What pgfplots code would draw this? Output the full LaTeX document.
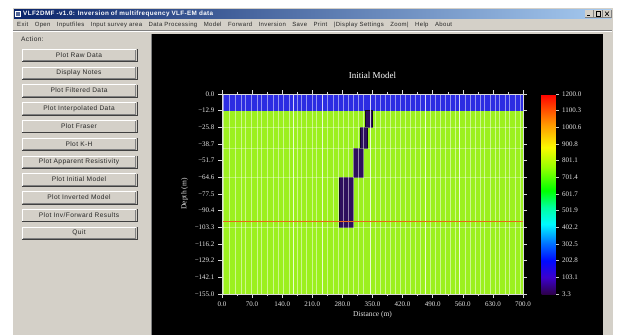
\documentclass[border=0pt]{standalone}
\usepackage{fontspec}
\setmainfont{Liberation Sans}
\newfontfamily\guifont[LetterSpace=6]{Liberation Sans}
\newfontfamily\plotfont{Liberation Serif}
\usepackage{pgfplots}
\usepackage{pgfplotstable}
\pgfplotsset{compat=1.18}

\definecolor{wingray}{HTML}{D4D0C8}
\definecolor{windark}{HTML}{808080}
\definecolor{titleL}{HTML}{0A246A}
\definecolor{titleR}{HTML}{A6CAF0}
\definecolor{layerblue}{HTML}{2C2CE2}
\definecolor{bodygreen}{HTML}{9CF01E}
\definecolor{dikepurple}{HTML}{2E0E5E}
\definecolor{depthline}{HTML}{E8661A}

% cell boundaries of the model mesh (distance in m)
\pgfplotstableread{
x y
3 -155
16 -155
30 -155
44 -155
55 -155
67 -155
81 -155
92 -155
106 -155
119 -155
131 -155
143 -155
156 -155
174 -155
185 -155
197 -155
209 -155
220 -155
246 -155
259 -155
270 -155
282 -155
293 -155
305 -155
317 -155
328 -155
356 -155
368 -155
379 -155
391 -155
403 -155
414 -155
426 -155
437 -155
449 -155
461 -155
484 -155
495 -155
507 -155
519 -155
530 -155
542 -155
565 -155
577 -155
588 -155
600 -155
611 -155
623 -155
635 -155
646 -155
658 -155
669 -155
681 -155
693 -155
}\cellbounds
% station positions, drawn brighter
\pgfplotstableread{
x y
166 -155
233 -155
344 -155
472 -155
553 -155
}\stations

\begin{document}
\begin{tikzpicture}
\begin{scope}[x=1pt,y=1pt]
  \useasboundingbox (0,0) rectangle (626,-335);
  \fill[white] (0,0) rectangle (626,-335);
  % window frame
  \fill[wingray] (12,-7) rectangle (613,-335);
  \draw[white] (12.5,-335) -- (12.5,-7.5) -- (612.5,-7.5);
  \shade[left color=titleL, right color=titleR] (14,-9) rectangle (611,-18.5);
  \fill[white] (15,-10.5) rectangle (21,-17);
  \fill[titleL!70!white] (16,-12) rectangle (20,-16);
  \node[anchor=west, text=white, font=\guifont\bfseries\fontsize{6.3}{7}\selectfont, inner sep=0pt]
    at (23,-13.8) {VLF2DMF -v1.0: Inversion of multifrequency VLF-EM data};
  % caption buttons
  \foreach \bx in {585,594,603} {
    \fill[wingray] (\bx,-10) rectangle ++(8,-7.5);
    \draw[windark] (\bx,-17.5) -- ++(8,0) -- ++(0,7.5);
  }
  \draw[black, line width=0.8pt] (587,-15.5) -- (590,-15.5);
  \draw[black, line width=0.5pt] (596,-11.5) rectangle (600,-16);
  \draw[black, line width=0.6pt] (605,-11.5) -- (609,-16) (605,-16) -- (609,-11.5);
  % menu bar
  \node[anchor=west, font=\guifont\fontsize{6}{7}\selectfont, inner sep=0pt, text=black!85]
    at (17,-24.8) {\hbox to 435pt{Exit\hfill Open\hfill Inputfiles\hfill Input survey area\hfill
      Data Processing\hfill Model\hfill Forward\hfill Inversion\hfill Save\hfill Print\hfill
      |Display Settings\hfill Zoom|\hfill Help\hfill About}};
  \draw[windark] (13,-30.5) -- (612,-30.5);
  \draw[white] (13,-31.5) -- (612,-31.5);
  % side panel
  \node[anchor=west, font=\guifont\fontsize{6.6}{7}\selectfont, inner sep=0pt, text=black!85] at (21,-39) {Action:};
  \foreach \lbl [count=\i from 0] in {Plot Raw Data, Display Notes, Plot Filtered Data,
      Plot Interpolated Data, Plot Fraser, Plot K-H, Plot Apparent Resistivity,
      Plot Initial Model, Plot Inverted Model, Plot Inv/Forward Results, Quit} {
    \pgfmathsetmacro\cy{-(55+\i*17.8)}
    \fill[wingray] (22,\cy+6) rectangle (136,\cy-6);
    \draw[white] (22,\cy-6) -- (22,\cy+6) -- (136,\cy+6);
    \draw[windark] (22.5,\cy-5.5) -- (135.5,\cy-5.5) -- (135.5,\cy+5.5);
    \draw[black!75, line width=0.8pt] (137,\cy+6) -- (137,\cy-6.5) -- (22,\cy-6.5);
    \node[font=\guifont\fontsize{6.6}{7}\selectfont, inner sep=0pt, text=black!85] at (79,\cy) {\lbl};
  }
  % drawing area
  \fill[black] (152,-34) rectangle (603,-335);
  \draw[windark] (151.5,-34) -- (151.5,-335);
\end{scope}

\begin{axis}[
  at={(222pt,-294pt)}, anchor=south west,
  scale only axis, width=301pt, height=200pt,
  xmin=0, xmax=700, ymin=-155, ymax=0,
  axis on top,
  xtick={0,70,140,210,280,350,420,490,560,630,700},
  xticklabels={0.0,70.0,140.0,210.0,280.0,350.0,420.0,490.0,560.0,630.0,700.0},
  ytick={0,-12.9,-25.8,-38.7,-51.7,-64.6,-77.5,-90.4,-103.3,-116.2,-129.2,-142.1,-155},
  yticklabels={0.0,−12.9,−25.8,−38.7,−51.7,−64.6,−77.5,−90.4,−103.3,−116.2,−129.2,−142.1,−155.0},
  minor x tick num=1, minor y tick num=1,
  tick align=outside,
  major tick length=4pt, minor tick length=2pt,
  tick style={white!85!black, line width=0.5pt},
  axis line style={white!85!black, line width=0.4pt},
  tick label style={font=\plotfont\fontsize{7}{8}\selectfont, text=white!90!black},
  label style={font=\plotfont\fontsize{7.5}{8}\selectfont, text=white!90!black},
  xlabel={Distance (m)}, ylabel={Depth (m)},
  xlabel style={yshift=2pt},
  title={Initial Model},
  title style={font=\plotfont\fontsize{9}{10}\selectfont, text=white, yshift=6pt},
  point meta min=3.3, point meta max=1200,
  colormap={vlfres}{rgb255(0pt)=(45,0,75) rgb255(100pt)=(60,0,205) rgb255(200pt)=(0,10,255)
    rgb255(300pt)=(0,110,255) rgb255(420pt)=(0,250,255) rgb255(520pt)=(0,255,160)
    rgb255(620pt)=(0,255,0) rgb255(760pt)=(150,255,0) rgb255(880pt)=(250,250,0)
    rgb255(1020pt)=(255,150,0) rgb255(1200pt)=(255,0,0)},
  colorbar,
  colorbar style={
    at={(parent axis.north east)}, anchor=north west, xshift=10pt,
    width=14pt, height=200pt,
    ytick={3.3,103.1,202.8,302.5,402.2,501.9,601.7,701.4,801.1,900.8,1000.6,1100.3,1200},
    yticklabels={3.3,103.1,202.8,302.5,402.2,501.9,601.7,701.4,801.1,900.8,1000.6,1100.3,1200.0},
    minor y tick num=1,
    ytick pos=right, tick align=outside,
    major tick length=3pt, minor tick length=1.5pt,
    tick style={white!80!black, line width=0.5pt},
    axis line style={draw=none},
    yticklabel style={font=\plotfont\fontsize{7}{8}\selectfont, text=white!90!black},
  },
]
  % conductive host and resistive cover
  \addplot[fill=bodygreen, draw=none] coordinates {(0,-12.9) (700,-12.9) (700,-155) (0,-155)} -- cycle;
  \addplot[fill=layerblue, draw=none] coordinates {(0,0) (700,0) (700,-12.9) (0,-12.9)} -- cycle;
  % dipping conductor
  \addplot[fill=dikepurple, draw=black!60!dikepurple, line width=0.6pt] coordinates {(333,-12.9) (349,-12.9) (349,-25.8) (333,-25.8)} -- cycle;
  \addplot[fill=dikepurple, draw=black!60!dikepurple, line width=0.6pt] coordinates {(322,-25.8) (338,-25.8) (338,-42) (322,-42)} -- cycle;
  \addplot[fill=dikepurple, draw=black!60!dikepurple, line width=0.6pt] coordinates {(305,-42) (328,-42) (328,-64.6) (305,-64.6)} -- cycle;
  \addplot[fill=dikepurple, draw=black!60!dikepurple, line width=0.6pt] coordinates {(272,-64.6) (306,-64.6) (306,-103.3) (272,-103.3)} -- cycle;
  % mesh lines
  \addplot[ycomb, draw=white, opacity=0.5, line width=0.6pt] table {\cellbounds};
  \addplot[ycomb, draw=white, opacity=0.8, line width=0.7pt] table {\stations};
  \addplot[white, opacity=0.35, line width=0.6pt] coordinates {(0,-25.8) (700,-25.8)};
  \addplot[white, opacity=0.35, line width=0.6pt] coordinates {(0,-42) (700,-42)};
  \addplot[white, opacity=0.35, line width=0.6pt] coordinates {(0,-64.6) (700,-64.6)};
  \addplot[white, opacity=0.35, line width=0.6pt] coordinates {(0,-103.3) (700,-103.3)};
  % depth of investigation
  \addplot[depthline, line width=0.8pt] coordinates {(0,-99) (700,-99)};
\end{axis}
\end{tikzpicture}
\end{document}
